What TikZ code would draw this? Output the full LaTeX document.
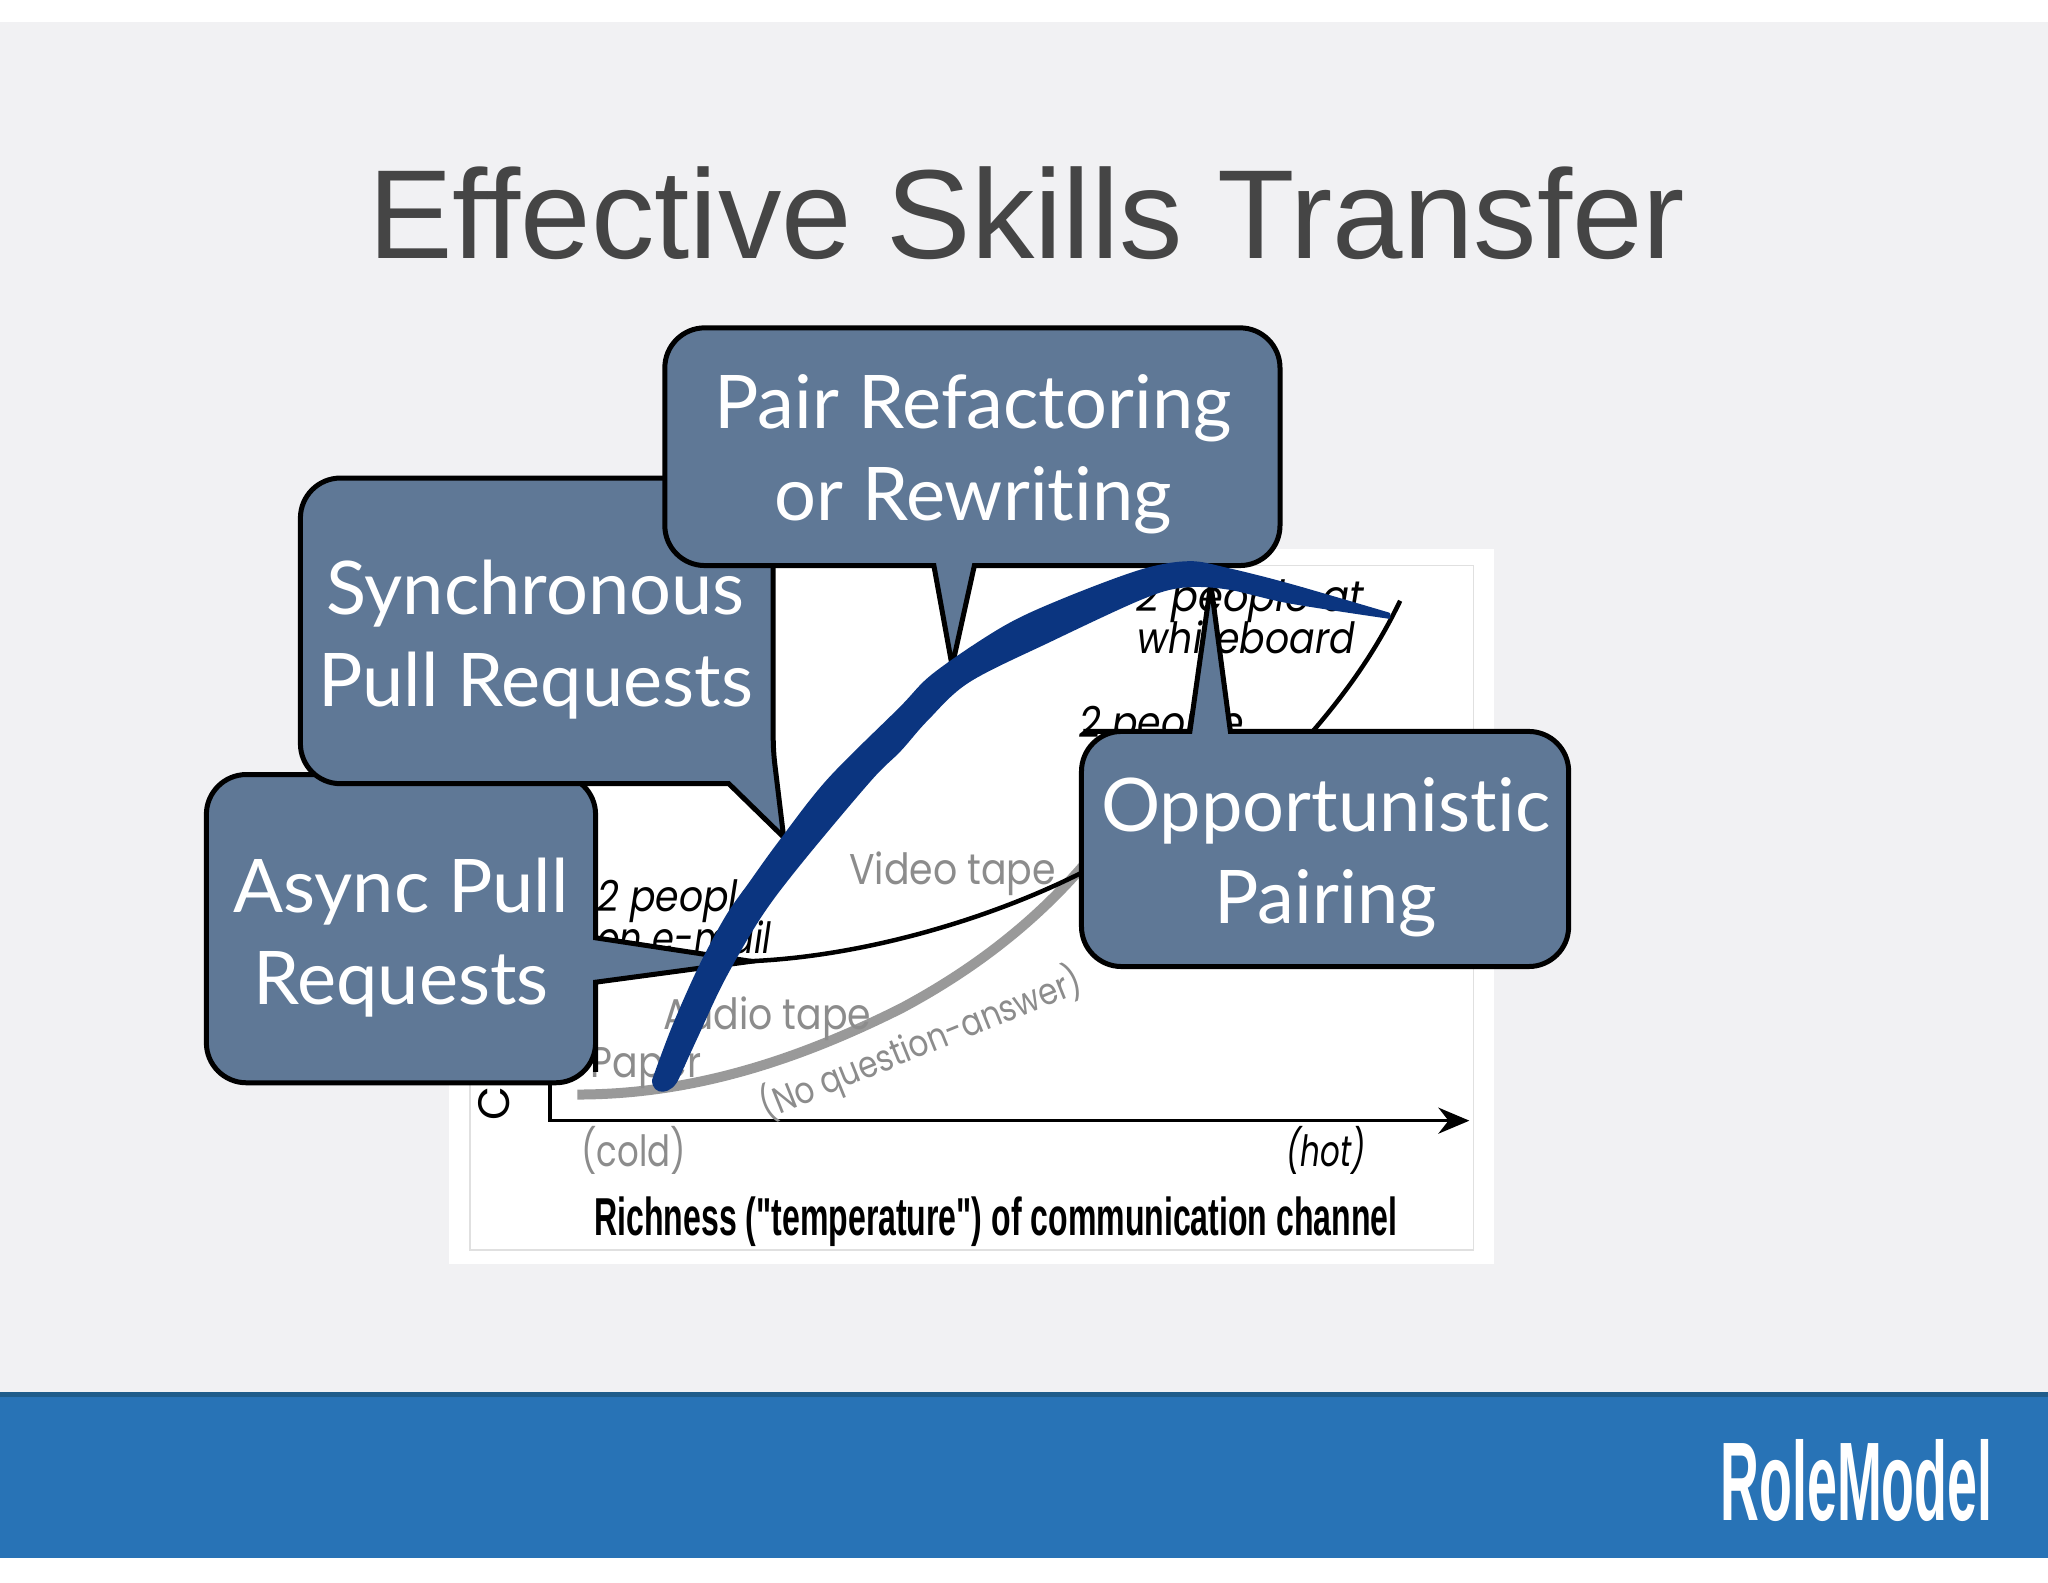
\documentclass[tikz,border=0pt]{standalone}
\usepackage{fontspec}
\usepackage{graphicx}
\setmainfont{Liberation Sans}
\newfontfamily\bubblefont[Ligatures=CommonOff]{Lato}
\newfontfamily\chartfont{Poppins}
\newfontfamily\capfont{Liberation Sans}
\usetikzlibrary{arrows.meta}
\definecolor{slidebg}{HTML}{F1F1F3}
\definecolor{bandblue}{HTML}{2873B6}
\definecolor{banddark}{HTML}{1F5C8A}
\definecolor{bubblefill}{HTML}{5F7896}
\definecolor{inkblue}{HTML}{0B3580}
\definecolor{titlegray}{HTML}{454545}
\definecolor{chartgray}{HTML}{8C8C8C}
\newcommand{\cht}[2][.88]{\scalebox{#1}[1]{#2}}
\tikzset{
  bubble/.style={fill=bubblefill,draw=black,line width=5pt,line join=miter},
  bubbletext/.style={text=white,align=center,inner sep=0pt,font=\bubblefont\fontsize{74}{92}\selectfont},
  charttext/.style={anchor=base west,inner sep=0pt,font=\chartfont\fontsize{43}{46}\selectfont\itshape},
  graytext/.style={anchor=base west,inner sep=0pt,text=chartgray,font=\chartfont\fontsize{43}{46}\selectfont},
}
\begin{document}
\begin{tikzpicture}[x=1.30612pt,y=-1.30612pt]
\useasboundingbox (0,0) rectangle (1568,1211.25);
\fill[white] (0,0) rectangle (1568,1211.25);
\fill[slidebg] (0,17) rectangle (1568,1066);
\fill[bandblue] (0,1066) rectangle (1568,1192.5);
\fill[banddark] (0,1066) rectangle (1568,1069.5);
\node[anchor=base,inner sep=0pt,text=titlegray,font=\fontsize{126.7}{130}\selectfont] (title) at (786,198) {Effective Skills Transfer};
\node[anchor=base west,inner sep=0pt,text=white,font=\capfont\bfseries] (logo) at (1317,1164) {\resizebox{272pt}{81pt}{RoleModel}};
% chart image
\fill[white] (344,420) rectangle (1144,968);
\draw[black!12,line width=1.5pt] (360,433) rectangle (1128,957);
\coordinate (ytop) at (421,700);
\coordinate (origin) at (421,858);
\coordinate (xend) at (1125,858);
\draw[black,line width=3.5pt,-{Stealth[length=31pt,width=26pt]}] (ytop) -- (origin) -- (xend);
\draw[black!40,line width=10pt] (442,838) .. controls (530,838) and (610,812) .. (690,772) .. controls (750,740) and (800,700) .. (840,650);
\draw[black,line width=4.5pt] (540,736) .. controls (640,740) and (760,705) .. (840,662) .. controls (900,630) and (960,610) .. (1005,560) .. controls (1035,525) and (1055,495) .. (1072,460);
\node[charttext] (wb1) at (870,468) {\cht[.93]{2 people at}};
\node[charttext] (wb2) at (871,500) {\cht{whiteboard}};
\node[charttext] (tp) at (826,565) {\cht{2 people}};
\node[charttext] (em1) at (457,698) {\cht{2 people}};
\node[charttext] (em2) at (457,730) {\cht[.82]{on e-mail}};
\node[graytext] (video) at (650,677) {\cht{Video tape}};
\node[graytext] (audio) at (508,788) {\cht{Audio tape}};
\node[graytext] (paper) at (452,825) {\cht{Paper}};
\node[graytext,anchor=center,rotate=22,font=\chartfont\fontsize{37}{40}\selectfont] (noqa) at (705,799) {\cht[.84]{(No question-answer)}};
\node[graytext] (cold) at (445,893) {\cht[.79]{(cold)}};
\node[charttext] (hot) at (985,893) {\cht[.72]{(hot)}};
\node[anchor=base west,inner sep=0pt,rotate=90,font=\chartfont\fontsize{44}{44}\selectfont] (ylab) at (390,858) {C};
\node[anchor=base west,inner sep=0pt,font=\capfont\bfseries\fontsize{44}{44}\selectfont] (cap) at (455,946) {\resizebox{803pt}{!}{\scalebox{.6}[1]{Richness ("temperature") of communication channel}}};
% bubbles
\path[bubble,rounded corners=40pt] (158,700) |- (300,593) -| (456,680) [sharp corners] -- (456,718) -- (575,736) -- (456,752) [rounded corners=40pt] -- (456,790) |- (300,829) -| cycle;
\path[bubble,rounded corners=40pt] (230,480) |- (400,366) -- (592,366) [rounded corners=12pt] -- (592,575) [sharp corners] -- (600,641) -- (558,600) [rounded corners=40pt] -- (300,600) -| (230,480) -- cycle;
\path[bubble,rounded corners=40pt] (509,340) |- (745,251) -| (980,433) [sharp corners] -- (746,433) -- (729,510) -- (715,433) [rounded corners=40pt] -- (600,433) -| (509,340) -- cycle;
\path[bubble,rounded corners=40pt] (828,650) |- (860,560) [sharp corners] -- (911,560) -- (927,447) -- (942,560) [rounded corners=40pt] -- (1100,560) -| (1201,650) |- (1015,740) -| (828,650) -- cycle;
\node[bubbletext] (async) at (307,718) {Async Pull\\Requests};
\node[bubbletext] (sync) at (410,490) {Synchronous\\Pull Requests};
\node[bubbletext] (pair) at (745,348) {Pair Refactoring\\or Rewriting};
\node[bubbletext] (opp) at (1015,656) {Opportunistic\\Pairing};
% pen stroke
\filldraw[inkblue,line width=2.5pt,line join=round] plot[smooth,tension=.55] coordinates {(500.2,826.9) (515.5,786) (535.9,740.1) (556.4,701.8) (574.2,676.3) (597.2,644.4) (634.2,597.2) (689,542.6) (715.4,516) (768,480.7) (813,459.6) (873.6,437) (910.4,430.6) (939.5,435.7) (987,447.7) (1063.5,470)}
 -- plot[smooth,tension=.55] coordinates {(1063.5,472.8) (987,461) (939.5,450.3) (905.3,449) (873.6,458.2) (805,490) (741.8,521.4) (710,550.5) (689,574.3) (666.1,597.2) (612.5,661) (581.9,701.8) (553.8,750.3) (533.4,793.7) (519.4,824.3)}
 .. controls (514,838) and (500,838) .. (500.2,826.9) -- cycle;
\end{tikzpicture}
\end{document}
